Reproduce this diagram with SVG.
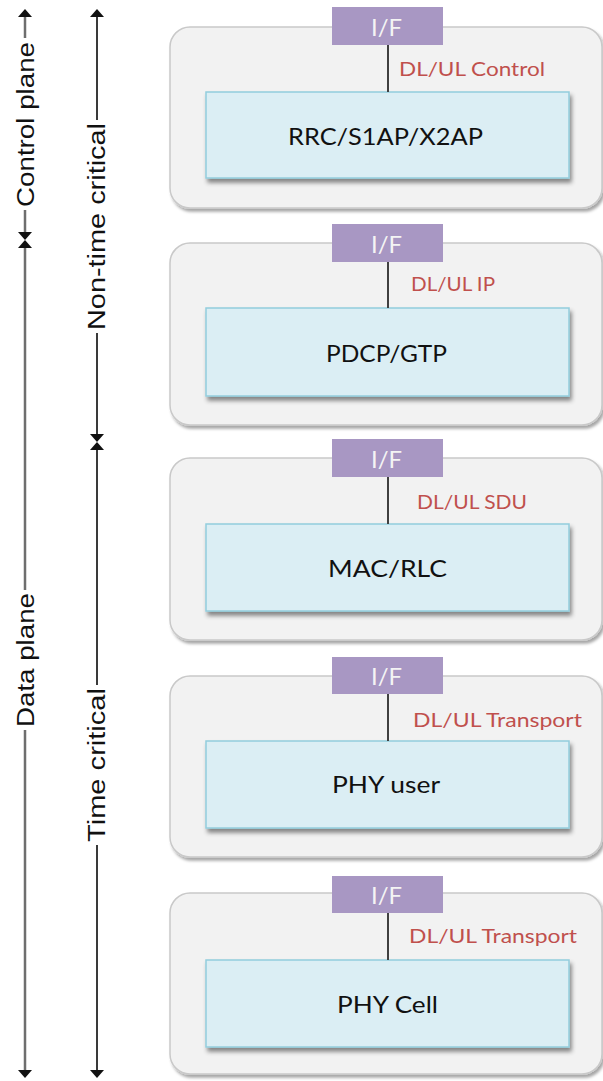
<svg xmlns="http://www.w3.org/2000/svg" width="603" height="1081" viewBox="0 0 603 1081">
<defs>
<style>
.outer{fill:#f2f2f2;stroke:#c9c9c9;stroke-width:1.5;filter:url(#sh1)}
.inner{fill:#dbeef4;stroke:#93cddd;stroke-width:1.5;filter:url(#sh2)}
.iff{fill:#a897c3}
.ift{font-family:Lato,"Open Sans",sans-serif;font-size:23px;fill:#f4f4f4}
.main{font-family:Lato,"Open Sans",sans-serif;font-size:24px;fill:#111}
.lbl{font-family:Lato,"Open Sans",sans-serif;font-size:19px;fill:#c0504d}
.conn{stroke:#404040;stroke-width:2}
.axl{stroke:#6e6e6e;stroke-width:2.5;fill:none}
.axr{stroke:#3a3a3a;stroke-width:2;fill:none}
.axt{font-family:"Liberation Sans",Arial,sans-serif;font-size:23px;fill:#111}
</style>
<filter id="sh1" x="-5%" y="-5%" width="115%" height="120%">
<feDropShadow dx="2" dy="3" stdDeviation="1.5" flood-color="#000" flood-opacity="0.35"/>
</filter>
<filter id="sh2" x="-5%" y="-10%" width="115%" height="130%">
<feDropShadow dx="2" dy="4" stdDeviation="2" flood-color="#000" flood-opacity="0.45"/>
</filter>
<marker id="ah" viewBox="0 0 8 14" refX="2" refY="7" markerWidth="8" markerHeight="14" markerUnits="userSpaceOnUse" orient="auto">
<path d="M0,0 L8,7 L0,14 z" fill="#111"/>
</marker>
</defs>

<g id="axes">
<g id="axis-control-plane">
<line class="axl" x1="25" y1="38" x2="25" y2="15" marker-end="url(#ah)"/>
<line class="axl" x1="25" y1="210" x2="25" y2="234" marker-end="url(#ah)"/>
<text class="axt" transform="translate(34,207) rotate(-90)" textLength="165" lengthAdjust="spacingAndGlyphs">Control plane</text>
</g>
<g id="axis-data-plane">
<line class="axl" x1="25" y1="590" x2="25" y2="246" marker-end="url(#ah)"/>
<line class="axl" x1="25" y1="730" x2="25" y2="1072" marker-end="url(#ah)"/>
<text class="axt" transform="translate(34,727) rotate(-90)" textLength="134" lengthAdjust="spacingAndGlyphs">Data plane</text>
</g>
<g id="axis-non-time-critical">
<line class="axr" x1="97" y1="120" x2="97" y2="15" marker-end="url(#ah)"/>
<line class="axr" x1="97" y1="333" x2="97" y2="436" marker-end="url(#ah)"/>
<text class="axt" transform="translate(105,330) rotate(-90)" textLength="207" lengthAdjust="spacingAndGlyphs">Non-time critical</text>
</g>
<g id="axis-time-critical">
<line class="axr" x1="97" y1="685" x2="97" y2="448" marker-end="url(#ah)"/>
<line class="axr" x1="97" y1="845" x2="97" y2="1072" marker-end="url(#ah)"/>
<text class="axt" transform="translate(105,842) rotate(-90)" textLength="154" lengthAdjust="spacingAndGlyphs">Time critical</text>
</g>
</g>

<g id="layer-rrc">
<rect class="outer" x="170" y="27" width="432" height="181" rx="20"/>
<rect class="inner" x="206" y="92" width="363" height="86"/>
<text class="main" x="288" y="145" textLength="195" lengthAdjust="spacingAndGlyphs">RRC/S1AP/X2AP</text>
</g>
<g id="layer-pdcp">
<rect class="outer" x="170" y="243" width="432" height="182" rx="20"/>
<rect class="inner" x="206" y="308" width="363" height="88"/>
<text class="main" x="326" y="362" textLength="121" lengthAdjust="spacingAndGlyphs">PDCP/GTP</text>
</g>
<g id="layer-mac">
<rect class="outer" x="170" y="458" width="432" height="182" rx="20"/>
<rect class="inner" x="206" y="524" width="363" height="87"/>
<text class="main" x="328" y="577" textLength="119" lengthAdjust="spacingAndGlyphs">MAC/RLC</text>
</g>
<g id="layer-phy-user">
<rect class="outer" x="170" y="676" width="432" height="181" rx="20"/>
<rect class="inner" x="206" y="741" width="363" height="87"/>
<text class="main" x="332" y="793" textLength="108" lengthAdjust="spacingAndGlyphs">PHY user</text>
</g>
<g id="layer-phy-cell">
<rect class="outer" x="170" y="893" width="432" height="181" rx="20"/>
<rect class="inner" x="206" y="960" width="363" height="87"/>
<text class="main" x="337" y="1013" textLength="101" lengthAdjust="spacingAndGlyphs">PHY Cell</text>
</g>

<g id="connectors">
<line class="conn" x1="388" y1="45" x2="388" y2="92"/>
<line class="conn" x1="388" y1="262" x2="388" y2="308"/>
<line class="conn" x1="388" y1="477" x2="388" y2="524"/>
<line class="conn" x1="388" y1="694" x2="388" y2="741"/>
<line class="conn" x1="388" y1="913" x2="388" y2="960"/>
<text class="lbl" x="399" y="76" textLength="146" lengthAdjust="spacingAndGlyphs">DL/UL Control</text>
<text class="lbl" x="411" y="291" textLength="84" lengthAdjust="spacingAndGlyphs">DL/UL IP</text>
<text class="lbl" x="417" y="509" textLength="110" lengthAdjust="spacingAndGlyphs">DL/UL SDU</text>
<text class="lbl" x="413" y="727" textLength="169" lengthAdjust="spacingAndGlyphs">DL/UL Transport</text>
<text class="lbl" x="409" y="943" textLength="168" lengthAdjust="spacingAndGlyphs">DL/UL Transport</text>
</g>

<g id="if-1"><rect class="iff" x="332" y="7" width="111" height="38"/><text class="ift" x="371" y="36" textLength="31" lengthAdjust="spacingAndGlyphs">I/F</text></g>
<g id="if-2"><rect class="iff" x="332" y="224" width="111" height="38"/><text class="ift" x="371" y="253" textLength="31" lengthAdjust="spacingAndGlyphs">I/F</text></g>
<g id="if-3"><rect class="iff" x="332" y="439" width="111" height="38"/><text class="ift" x="371" y="468" textLength="31" lengthAdjust="spacingAndGlyphs">I/F</text></g>
<g id="if-4"><rect class="iff" x="332" y="657" width="111" height="37"/><text class="ift" x="371" y="685" textLength="31" lengthAdjust="spacingAndGlyphs">I/F</text></g>
<g id="if-5"><rect class="iff" x="332" y="876" width="111" height="37"/><text class="ift" x="371" y="904" textLength="31" lengthAdjust="spacingAndGlyphs">I/F</text></g>
</svg>
